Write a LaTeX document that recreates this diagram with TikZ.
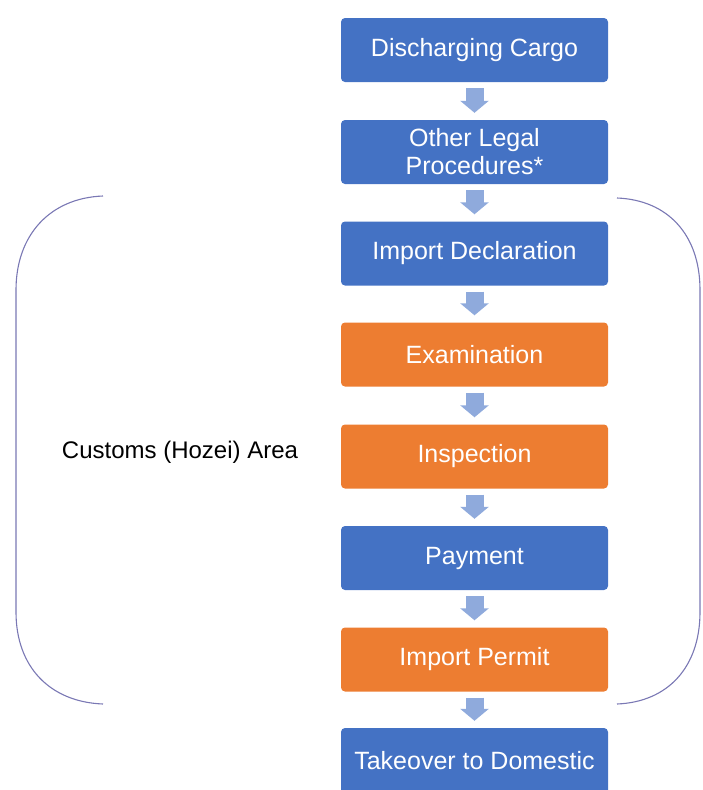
\documentclass[tikz,border=0pt]{standalone}
\usepackage{fontspec}
\setmainfont{Liberation Sans}
\usetikzlibrary{arrows.meta}
\definecolor{boxblue}{HTML}{4472C4}
\definecolor{boxorange}{HTML}{ED7D31}
\definecolor{arrowblue}{HTML}{8FAADC}
\definecolor{bracketcol}{HTML}{7A78B4}
\tikzset{
  stepbox/.style={rectangle, rounded corners=4pt, minimum width=267pt, minimum height=64pt,
    inner sep=0pt, text=white, align=center, font=\fontsize{25}{28}\selectfont, draw=none},
  bluebox/.style={stepbox, fill=boxblue},
  orangebox/.style={stepbox, fill=boxorange},
  blockarrow/.style={draw=arrowblue, line width=18pt,
    -{Triangle[width=28pt,length=12pt,fill=arrowblue]}, shorten <=6pt, shorten >=7pt},
  bracket/.style={draw=bracketcol, line width=1.1pt},
  areatext/.style={font=\fontsize{24}{28}\selectfont, text=black, inner sep=0pt}
}
\begin{document}
\begin{tikzpicture}[x=1pt, y=-1pt]
\useasboundingbox (0,0) rectangle (703,790);
\clip (0,0) rectangle (703,790);
\node[bluebox]   (b1) at (474.5, 50)  {Discharging Cargo};
\node[bluebox]   (b2) at (474.5, 152) {Other Legal\\Procedures*};
\node[bluebox]   (b3) at (474.5, 253.5) {Import Declaration};
\node[orangebox] (b4) at (474.5, 354.5) {Examination};
\node[orangebox] (b5) at (474.5, 456.5) {Inspection};
\node[bluebox]   (b6) at (474.5, 558) {Payment};
\node[orangebox] (b7) at (474.5, 659.5) {Import Permit};
\node[bluebox, minimum height=66pt] (b8) at (474.5, 761) {Takeover to Domestic};
\foreach \a/\b in {b1/b2,b2/b3,b3/b4,b4/b5,b5/b6,b6/b7,b7/b8}
  \draw[blockarrow] (\a) -- (\b);
\node[areatext] (area) at (180, 452) {Customs (Hozei) Area};
% left bracket
\draw[bracket] (103,196) .. controls (50,198) and (16,235) .. (16,290)
  -- (16,612) .. controls (16,667) and (50,702) .. (103,704);
% right bracket
\draw[bracket] (617,198) .. controls (668,200) and (700,235) .. (700,290)
  -- (700,612) .. controls (700,667) and (668,702) .. (617,704);
\end{tikzpicture}
\end{document}
